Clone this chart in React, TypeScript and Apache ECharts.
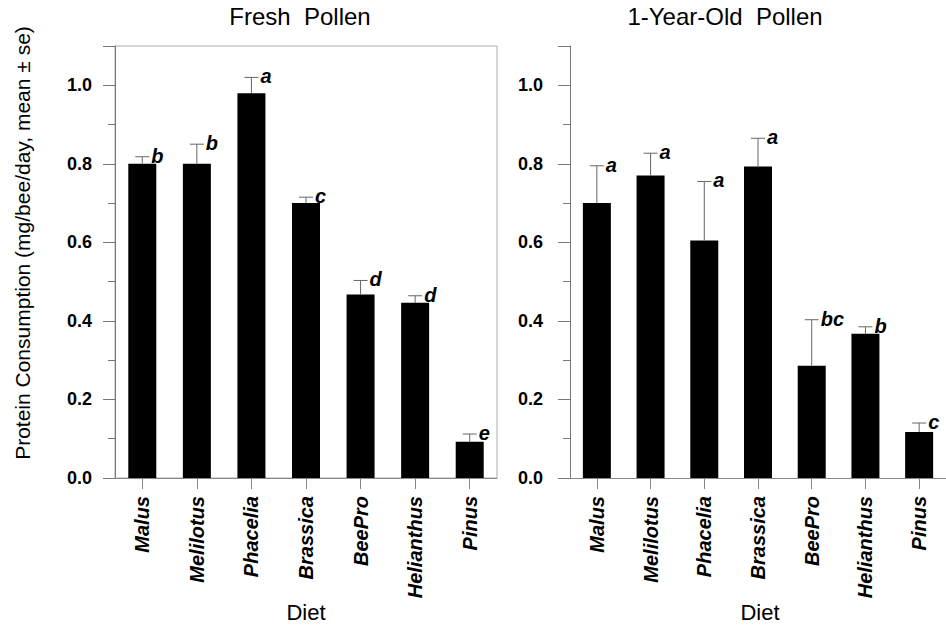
import React, { useEffect, useRef } from "react";
import * as echarts from "echarts";

const categories = ["Malus", "Melilotus", "Phacelia", "Brassica", "BeePro", "Helianthus", "Pinus"];
const freshMean = [0.8, 0.8, 0.98, 0.7, 0.467, 0.446, 0.092];
const freshSe = [0.018, 0.05, 0.04, 0.015, 0.036, 0.018, 0.02];
const freshLetters = ["b", "b", "a", "c", "d", "d", "e"];
const oldMean = [0.7, 0.77, 0.605, 0.793, 0.286, 0.367, 0.117];
const oldSe = [0.095, 0.057, 0.15, 0.072, 0.117, 0.018, 0.023];
const oldLetters = ["a", "a", "a", "a", "bc", "b", "c"];
const yTicks = [0, 0.2, 0.4, 0.6, 0.8, 1.0];

const FONT = "'Liberation Sans', Arial, sans-serif";

function errRender(letters: string[]) {
  return (params: any, api: any) => {
    const i = api.value(0);
    const m = api.value(1);
    const s = api.value(2);
    const base = api.coord([i, m]);
    const top = api.coord([i, m + s]);
    return {
      type: "group",
      children: [
        { type: "line", shape: { x1: base[0], y1: base[1], x2: top[0], y2: top[1] }, style: { stroke: "#666", lineWidth: 1 } },
        { type: "line", shape: { x1: top[0] - 7, y1: top[1], x2: top[0] + 7, y2: top[1] }, style: { stroke: "#666", lineWidth: 1 } },
        {
          type: "text",
          x: top[0] + 9,
          y: top[1] - 1,
          style: {
            text: letters[i],
            fill: "#000",
            font: "italic bold 20px " + FONT,
            align: "left",
            verticalAlign: "middle",
          },
        },
      ],
    };
  };
}

export default function App() {
  const ref = useRef<HTMLDivElement>(null);
  useEffect(() => {
    const chart = echarts.init(ref.current!, null, { renderer: "svg" });
    const yAxisBase = (gridIndex: number, margin: number) => ({
      type: "value",
      gridIndex,
      min: 0,
      max: 1.1,
      interval: 0.2,
      axisLine: { show: true, lineStyle: { color: "#777", width: 1 } },
      axisTick: { show: true, length: 12, lineStyle: { color: "#777" } },
      minorTick: { show: true, splitNumber: 2, length: 7, lineStyle: { color: "#777" } },
      splitLine: { show: false },
      axisLabel: {
        margin,
        color: "#000",
        fontSize: 18,
        fontWeight: "bold",
        fontFamily: FONT,
        formatter: (v: number) => (yTicks.some((t) => Math.abs(t - v) < 1e-6) ? v.toFixed(1) : ""),
      },
    });
    const xAxisBase = (gridIndex: number) => ({
      type: "category",
      gridIndex,
      data: categories,
      axisLine: { show: true, lineStyle: { color: "#888", width: 1 } },
      axisTick: { show: true, alignWithLabel: true, length: 11, lineStyle: { color: "#888" } },
      axisLabel: {
        rotate: 90,
        margin: 18,
        color: "#000",
        fontSize: 20,
        fontStyle: "italic",
        fontWeight: "bold",
        fontFamily: FONT,
        interval: 0,
      },
    });
    chart.setOption({
      animation: false,
      backgroundColor: "#fff",
      grid: [
        { left: 115, top: 46, width: 382, height: 432, show: true, borderColor: "#aaa", borderWidth: 1, backgroundColor: "transparent" },
        { left: 570, top: 46, width: 385, height: 432 },
      ],
      xAxis: [xAxisBase(0), xAxisBase(1)],
      yAxis: [yAxisBase(0, 23), yAxisBase(1, 27)],
      series: [
        { type: "bar", xAxisIndex: 0, yAxisIndex: 0, data: freshMean, barWidth: 28, itemStyle: { color: "#000" } },
        { type: "bar", xAxisIndex: 1, yAxisIndex: 1, data: oldMean, barWidth: 28, itemStyle: { color: "#000" } },
        {
          type: "custom",
          xAxisIndex: 0,
          yAxisIndex: 0,
          data: freshMean.map((m, i) => [i, m, freshSe[i]]),
          renderItem: errRender(freshLetters),
          z: 5,
        },
        {
          type: "custom",
          xAxisIndex: 1,
          yAxisIndex: 1,
          data: oldMean.map((m, i) => [i, m, oldSe[i]]),
          renderItem: errRender(oldLetters),
          z: 5,
        },
      ],
      graphic: [
        { type: "text", x: 300, y: 16, style: { text: "Fresh  Pollen", font: "24px " + FONT, fill: "#000", align: "center", verticalAlign: "middle" } },
        { type: "text", x: 725, y: 16, style: { text: "1-Year-Old  Pollen", font: "24px " + FONT, fill: "#000", align: "center", verticalAlign: "middle" } },
        { type: "text", x: 306, y: 612, style: { text: "Diet", font: "22px " + FONT, fill: "#000", align: "center", verticalAlign: "middle" } },
        { type: "text", x: 760, y: 612, style: { text: "Diet", font: "22px " + FONT, fill: "#000", align: "center", verticalAlign: "middle" } },
        {
          type: "text",
          x: 22,
          y: 243,
          rotation: Math.PI / 2,
          style: { text: "Protein Consumption (mg/bee/day, mean ± se)", font: "21px " + FONT, fill: "#000", align: "center", verticalAlign: "middle" },
        },
      ],
    });
    return () => chart.dispose();
  }, []);
  return <div ref={ref} style={{ width: 946, height: 632, position: "absolute", left: 0, top: 0 }} />;
}
